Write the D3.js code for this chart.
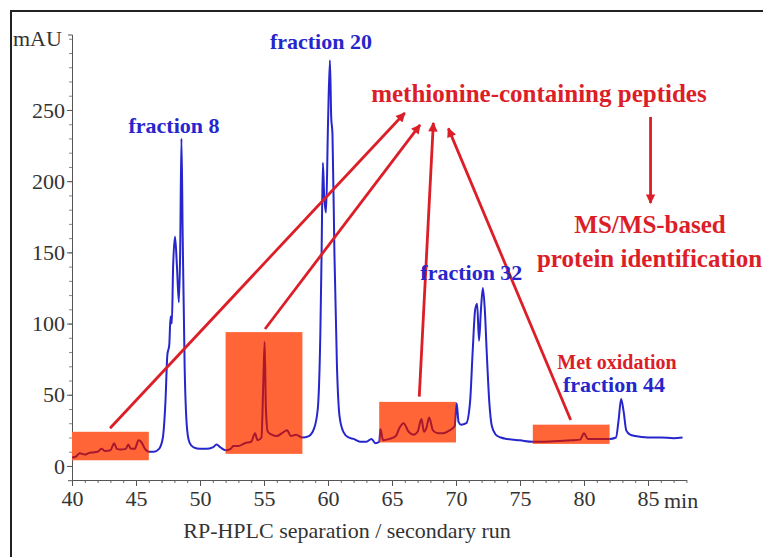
<!DOCTYPE html>
<html>
<head>
<meta charset="utf-8">
<script src="https://cdn.jsdelivr.net/npm/d3@7"></script>
<style>
  body { margin: 0; background: #fff; }
  text { font-family: "Liberation Serif", "Times New Roman", serif; }
</style>
</head>
<body>
<div id="chart"></div>
<script>
// retention time (min) and absorbance (mAU)
const time = [40.0, 40.3, 40.6, 41.0, 41.3, 41.6, 42.0, 42.3, 42.6, 43.0, 43.3, 43.5, 43.8, 44.2, 44.4, 44.6, 44.9, 45.2, 45.4, 45.7,
  46.0, 46.4, 46.8, 47.1, 47.3, 47.45, 47.6, 47.7, 47.8, 47.9, 48.05, 48.2, 48.35, 48.45, 48.55, 48.65, 48.8, 49.0, 49.2, 49.5,
  50.0, 50.5, 51.0, 51.3, 51.6, 52.0, 52.4, 52.6, 53.0, 53.5, 54.0, 54.3, 54.5, 54.8, 54.95, 55.05, 55.15, 55.3, 55.6, 56.0,
  56.4, 56.8, 57.1, 57.5, 58.0, 58.5, 58.9, 59.2, 59.4, 59.5, 59.6, 59.7, 59.85, 60.0, 60.15, 60.25, 60.35, 60.5, 60.7, 60.9,
  61.2, 61.6, 62.0, 62.5, 63.0, 63.4, 63.7, 64.0, 64.1, 64.3, 64.8, 65.3, 65.6, 65.9, 66.3, 66.7, 67.0, 67.3, 67.5, 67.7,
  67.9, 68.2, 68.6, 69.0, 69.5, 69.9, 70.05, 70.2, 70.4, 70.8, 71.1, 71.3, 71.5, 71.65, 71.8, 71.95, 72.1, 72.25, 72.4, 72.6,
  72.8, 73.1, 73.5, 74.0, 75.0, 76.0, 77.0, 78.0, 79.0, 79.7, 80.0, 80.3, 81.0, 82.0, 82.5, 82.7, 82.9, 83.1, 83.3, 83.6,
  84.0, 85.0, 86.0, 87.0, 87.7];
const mAU = [6, 6.5, 9, 8, 9, 9.5, 10, 12, 10.5, 11, 16, 12, 11.5, 12, 15, 12, 12, 18, 17, 12,
  10, 10, 12, 20, 45, 78, 85, 105, 100, 140, 161, 140, 115, 150, 230, 160, 70, 25, 16, 13,
  12, 12, 13, 15, 13, 11, 12, 14, 14, 16, 17, 23, 18, 20, 60, 87, 40, 24, 22, 21,
  23, 25, 21, 22, 20, 21, 26, 40, 92, 150, 213, 190, 178, 240, 285, 245, 233, 150, 70, 35,
  24, 20, 19, 17, 17, 19, 16, 17, 26, 18, 19, 21, 27, 30, 24, 22, 24, 33, 24, 27,
  34, 25, 23, 23, 25, 28, 44, 31, 29, 30, 45, 80, 110, 114, 88, 110, 125, 110, 80, 45,
  28, 22, 20, 19, 18, 17, 17, 17.5, 18, 18.5, 23, 19, 19, 19, 20, 32, 47, 38, 25, 22,
  21, 20, 20, 19.5, 20];

// highlighted windows (min / mAU)
const boxStart = [40, 52, 64, 76];
const boxEnd = [46, 58, 70, 82];
const boxTop = [24, 94, 45, 29];
const boxBottom = [4, 8.5, 16.5, 15.5];

const xTicks = [40, 45, 50, 55, 60, 65, 70, 75, 80, 85];
const yTicks = [0, 50, 100, 150, 200, 250];

// arrows, in chart units
const arrowFrom = [[42.97, 26.5], [55.08, 96.2], [67.13, 48.7], [78.96, 32.3], [85.2, 245.1]];
const arrowTo = [[66.0, 247.9], [67.19, 239.5], [68.23, 240.9], [69.4, 237.1], [85.2, 184.7]];

const labels = [
  { text: "fraction 8", t: 47.97, v: 234, kind: "blue" },
  { text: "fraction 20", t: 59.45, v: 293, kind: "blue" },
  { text: "fraction 32", t: 71.2, v: 130.6, kind: "blue" },
  { text: "fraction 44", t: 82.34, v: 52, kind: "blue" },
  { text: "Met oxidation", t: 82.58, v: 68.1, kind: "small" },
  { text: "methionine-containing peptides", t: 76.48, v: 255.6, kind: "red" },
  { text: "MS/MS-based", t: 85.16, v: 163.6, kind: "red" },
  { text: "protein identification", t: 85.12, v: 139.7, kind: "red" }
];

const W = 763, H = 557;
const blue = "#2626cc", red = "#dc1e28";

const svg = d3.select("#chart").append("svg").attr("width", W).attr("height", H);

// frame
svg.append("rect").attr("x", 11).attr("y", 11).attr("width", 800).attr("height", 600)
  .attr("fill", "none").attr("stroke", "#222").attr("stroke-width", 2);

const x = d3.scaleLinear().domain([40, 88]).range([72, 686.4]);
const y = d3.scaleLinear().domain([-10, 303]).range([480.2, 34.5]);

// axes
const xMinor = svg.append("g").attr("transform", "translate(0,480)")
  .call(d3.axisBottom(x).tickValues(d3.range(40, 89, 1)).tickSize(3).tickFormat(""));
xMinor.select(".domain").remove();
xMinor.selectAll("line").attr("stroke", "#666");

const xAxis = svg.append("g").attr("transform", "translate(0,480)")
  .call(d3.axisBottom(x).tickValues(xTicks).tickSize(6).tickSizeOuter(0).tickPadding(4));
xAxis.select(".domain").attr("stroke", "#555");
xAxis.selectAll("line").attr("stroke", "#555");
xAxis.selectAll("text").attr("font-size", 22).attr("fill", "#333")
  .style("font-family", "'Liberation Serif', serif");

const yMinor = svg.append("g").attr("transform", "translate(72,0)")
  .call(d3.axisLeft(y).tickValues(d3.range(0, 301, 10)).tickSize(3).tickFormat(""));
yMinor.select(".domain").remove();
yMinor.selectAll("line").attr("stroke", "#888");

const yAxis = svg.append("g").attr("transform", "translate(72,0)")
  .call(d3.axisLeft(y).tickValues(yTicks).tickSize(5).tickSizeOuter(4).tickPadding(2));
yAxis.select(".domain").attr("stroke", "#555");
yAxis.selectAll("line").attr("stroke", "#555");
yAxis.selectAll("text").attr("font-size", 22).attr("fill", "#333")
  .style("font-family", "'Liberation Serif', serif");

svg.append("text").attr("x", 13).attr("y", 46).attr("font-size", 22).attr("fill", "#333").text("mAU");
svg.append("text").attr("x", 664).attr("y", 508).attr("font-size", 22).attr("fill", "#333").text("min");
svg.append("text").attr("x", 347).attr("y", 538).attr("text-anchor", "middle")
  .attr("font-size", 22).attr("fill", "#333").text("RP-HPLC separation / secondary run");

// trace
const pts = time.map((t, i) => [t, mAU[i]]);
const line = d3.line().x(d => x(d[0])).y(d => y(d[1])).curve(d3.curveMonotoneX);

svg.append("path").datum(pts).attr("fill", "none").attr("stroke", blue)
  .attr("stroke-width", 2).attr("stroke-linejoin", "round").attr("d", line);

// orange boxes and the trace seen through them
const defs = svg.append("defs");
const clip = defs.append("clipPath").attr("id", "boxclip");
boxStart.forEach((s, i) => {
  svg.append("rect")
    .attr("x", x(s)).attr("y", y(boxTop[i]))
    .attr("width", x(boxEnd[i]) - x(s)).attr("height", y(boxBottom[i]) - y(boxTop[i]))
    .attr("fill", "#ff6536");
  clip.append("rect")
    .attr("x", x(s)).attr("y", y(boxTop[i]))
    .attr("width", x(boxEnd[i]) - x(s)).attr("height", y(boxBottom[i]) - y(boxTop[i]));
});
svg.append("path").datum(pts).attr("fill", "none").attr("stroke", "#a8182e")
  .attr("stroke-width", 2).attr("clip-path", "url(#boxclip)").attr("d", line);

// arrows
defs.append("marker").attr("id", "head").attr("viewBox", "0 0 10 10")
  .attr("refX", 9).attr("refY", 5).attr("markerWidth", 4.2).attr("markerHeight", 3.4)
  .attr("orient", "auto").attr("markerUnits", "strokeWidth")
  .append("path").attr("d", "M0,0L10,5L0,10z").attr("fill", red);

arrowFrom.forEach((a, i) => {
  svg.append("line")
    .attr("x1", x(a[0])).attr("y1", y(a[1]))
    .attr("x2", x(arrowTo[i][0])).attr("y2", y(arrowTo[i][1]))
    .attr("stroke", red).attr("stroke-width", 2.8).attr("marker-end", "url(#head)");
});

// annotations
svg.selectAll(".note").data(labels).enter().append("text")
  .attr("class", "note")
  .attr("x", d => x(d.t)).attr("y", d => y(d.v))
  .attr("text-anchor", "middle")
  .attr("font-weight", "bold")
  .attr("font-size", d => d.kind === "red" ? 25 : d.kind === "small" ? 20 : 22)
  .attr("fill", d => d.kind === "blue" ? blue : red)
  .text(d => d.text);
</script>
</body>
</html>
